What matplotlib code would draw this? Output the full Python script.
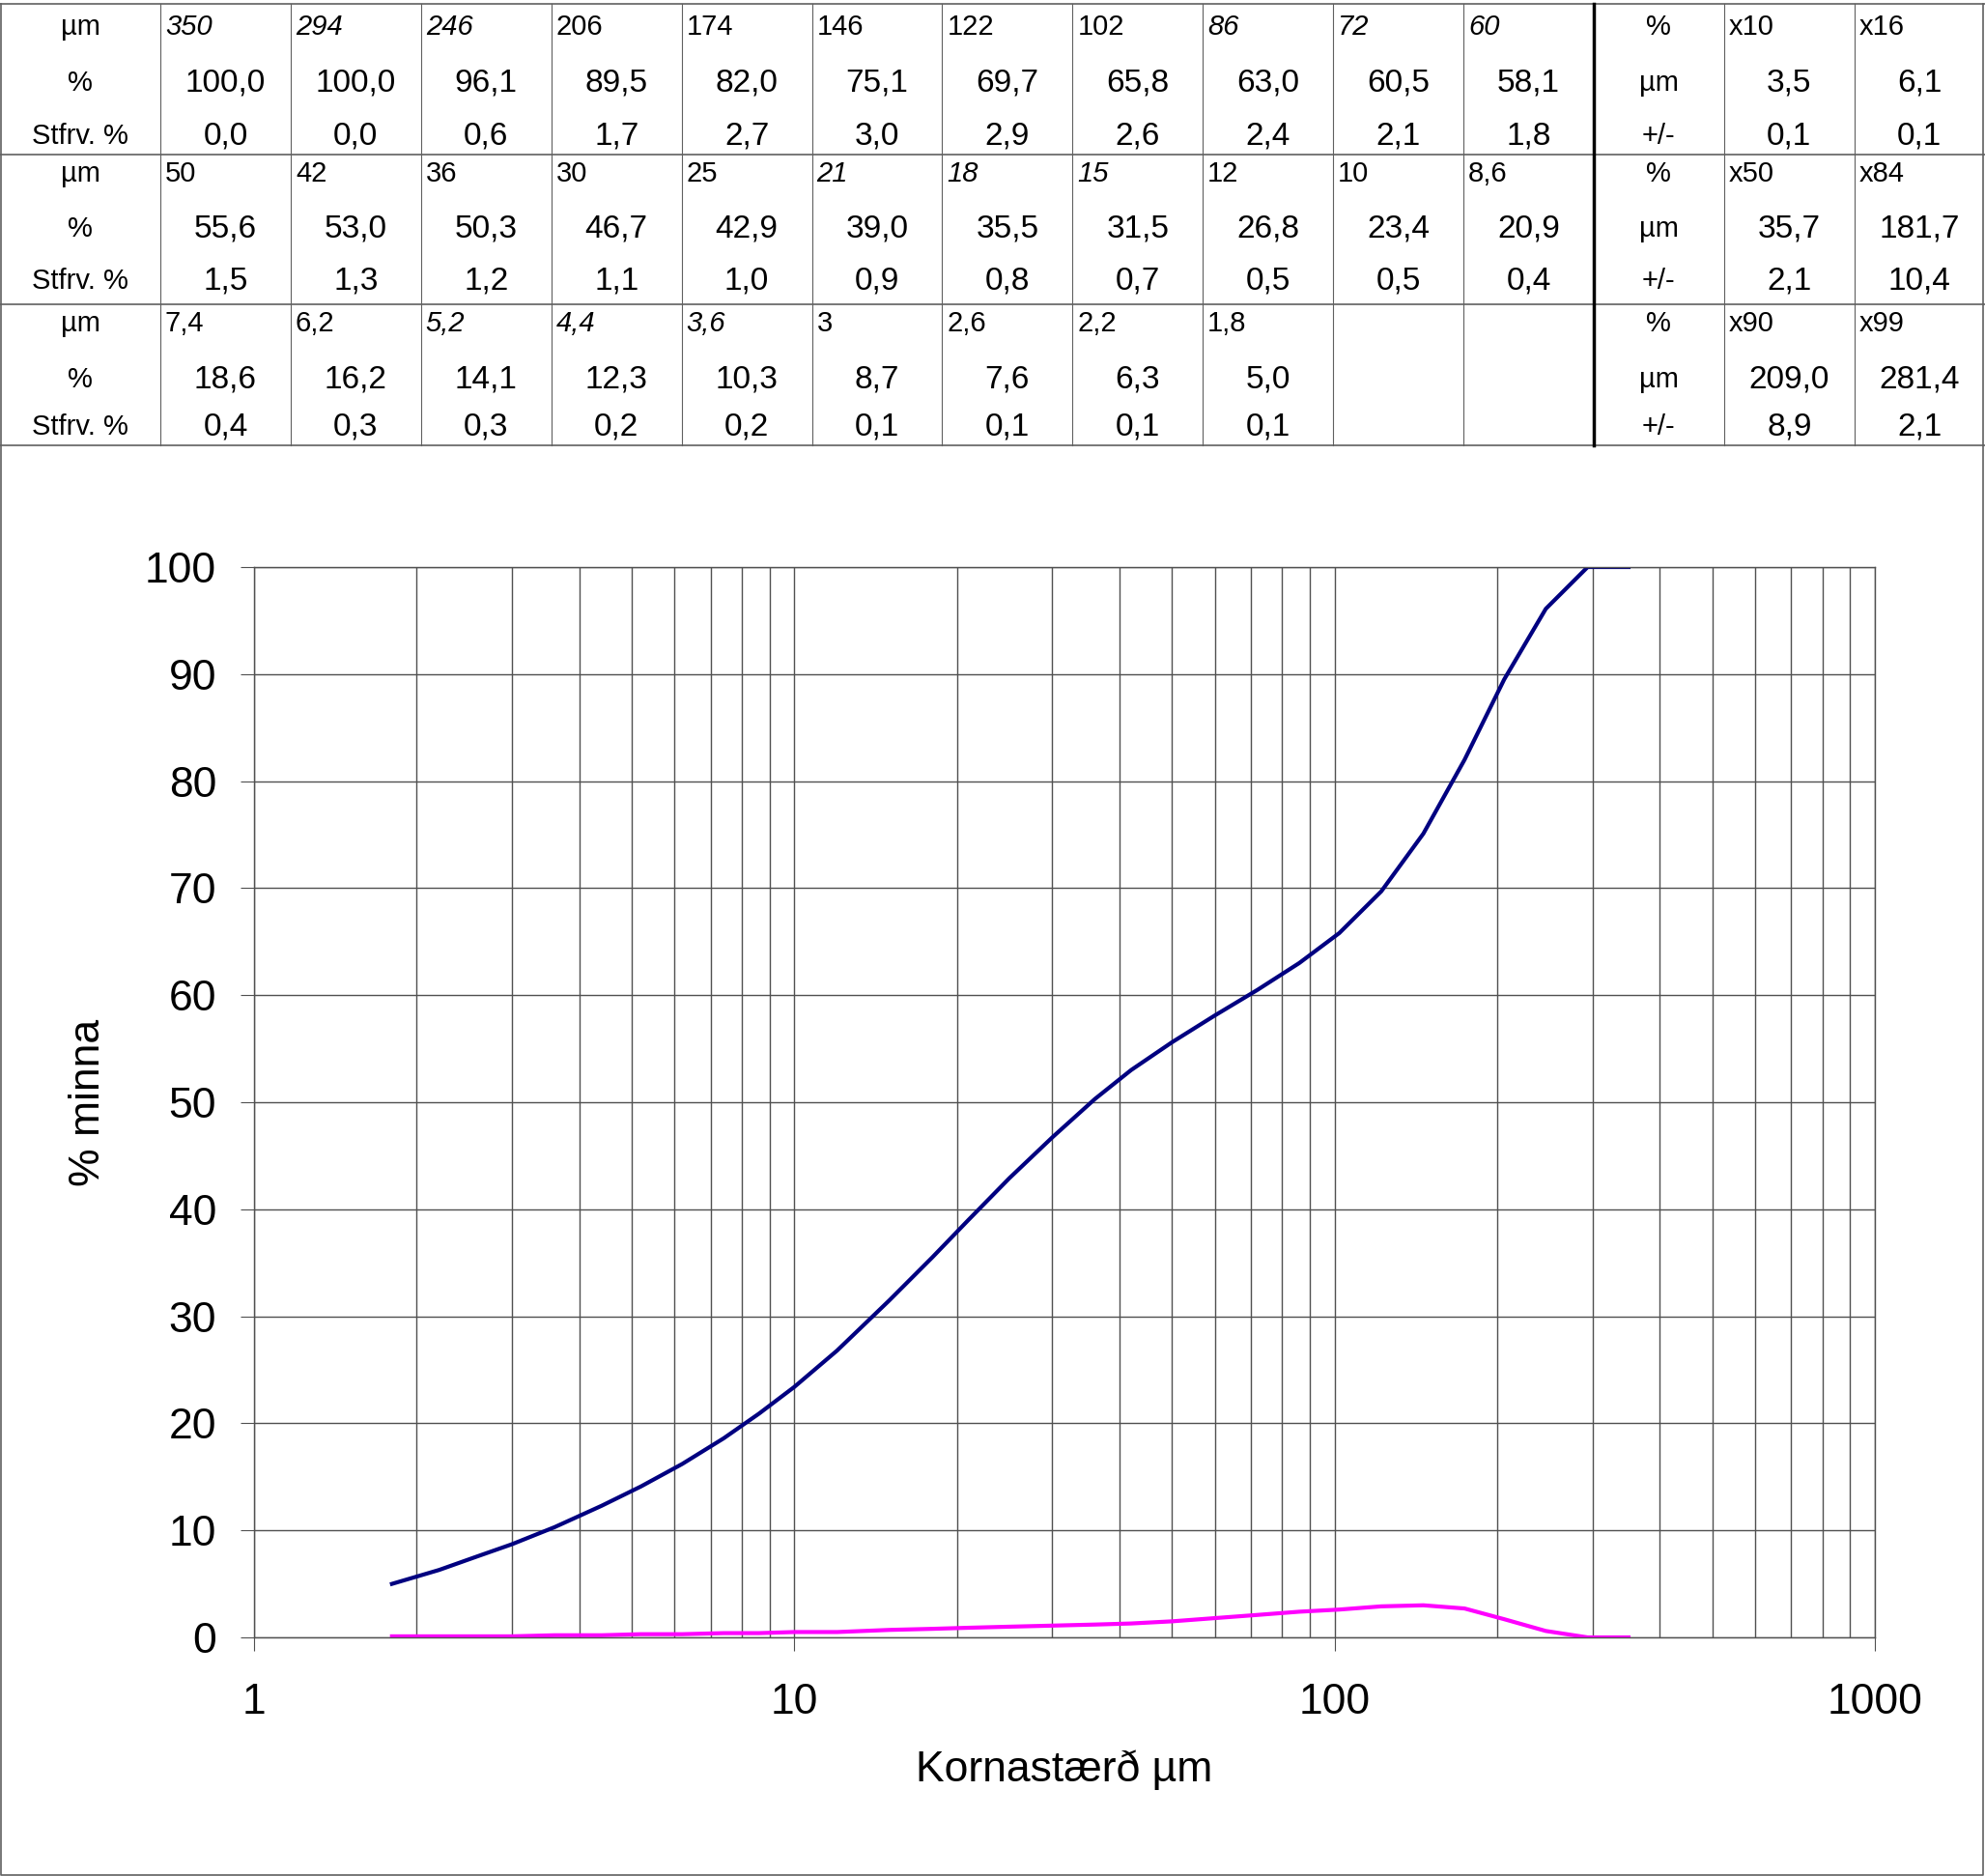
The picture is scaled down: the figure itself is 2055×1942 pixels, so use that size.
import matplotlib
matplotlib.use("Agg")
import matplotlib.pyplot as plt
from matplotlib.lines import Line2D
from matplotlib.ticker import FixedLocator, NullFormatter

plt.rcParams['font.family'] = ['Liberation Sans', 'DejaVu Sans']

# grain size (µm), % finer, standard deviation
sizes = [350, 294, 246, 206, 174, 146, 122, 102, 86, 72, 60,
         50, 42, 36, 30, 25, 21, 18, 15, 12, 10, 8.6,
         7.4, 6.2, 5.2, 4.4, 3.6, 3, 2.6, 2.2, 1.8]
percent = [100.0, 100.0, 96.1, 89.5, 82.0, 75.1, 69.7, 65.8, 63.0, 60.5, 58.1,
           55.6, 53.0, 50.3, 46.7, 42.9, 39.0, 35.5, 31.5, 26.8, 23.4, 20.9,
           18.6, 16.2, 14.1, 12.3, 10.3, 8.7, 7.6, 6.3, 5.0]
stdev = [0.0, 0.0, 0.6, 1.7, 2.7, 3.0, 2.9, 2.6, 2.4, 2.1, 1.8,
         1.5, 1.3, 1.2, 1.1, 1.0, 0.9, 0.8, 0.7, 0.5, 0.5, 0.4,
         0.4, 0.3, 0.3, 0.2, 0.2, 0.1, 0.1, 0.1, 0.1]
italic_sizes = [350, 294, 246, 86, 72, 60, 21, 18, 15, 5.2, 4.4, 3.6]

# percentile summary
pct_names = ['x10', 'x16', 'x50', 'x84', 'x90', 'x99']
pct_um = [3.5, 6.1, 35.7, 181.7, 209.0, 281.4]
pct_err = [0.1, 0.1, 2.1, 10.4, 8.9, 2.1]

W, H = 2055, 1942
fig = plt.figure(figsize=(W / 100, H / 100), dpi=100)

# table drawn in pixel coordinates
bg = fig.add_axes([0, 0, 1, 1])
bg.set_xlim(0, W)
bg.set_ylim(H, 0)
bg.axis('off')


def fmt(v):
    return f"{v:.1f}".replace('.', ',')


def fmt_size(v):
    return str(int(v)) if float(v).is_integer() else str(v).replace('.', ',')


grey = '#606060'
row_tops = [4, 160, 315]
head_off = [24, 20, 20]
val_off = [82, 77, 78]
std_off = [137, 131, 127]
col_w = 134.9
label_w = 166
thick_x = label_w + 11 * col_w
fs_lab, fs_head, fs_val = 21, 21, 24

for r in range(3):
    top = row_tops[r]
    yh, yv, ys = top + head_off[r], top + val_off[r], top + std_off[r]
    bg.text(label_w / 2, yh, 'µm', fontsize=fs_lab, ha='center', va='center')
    bg.text(label_w / 2, yv, '%', fontsize=fs_lab, ha='center', va='center')
    bg.text(label_w / 2, ys, 'Stfrv. %', fontsize=fs_lab, ha='center', va='center')
    for c in range(11):
        i = r * 11 + c
        if i >= len(sizes):
            break
        x0 = label_w + c * col_w
        style = 'italic' if sizes[i] in italic_sizes else 'normal'
        bg.text(x0 + 5, yh, fmt_size(sizes[i]), fontsize=fs_head, style=style,
                ha='left', va='center')
        bg.text(x0 + col_w / 2, yv, fmt(percent[i]), fontsize=fs_val,
                ha='center', va='center')
        bg.text(x0 + col_w / 2, ys, fmt(stdev[i]), fontsize=fs_val,
                ha='center', va='center')
    # right block
    bg.text(thick_x + col_w / 2, yh, '%', fontsize=fs_lab, ha='center', va='center')
    bg.text(thick_x + col_w / 2, yv, 'µm', fontsize=fs_lab, ha='center', va='center')
    bg.text(thick_x + col_w / 2, ys, '+/-', fontsize=fs_lab, ha='center', va='center')
    for k in range(2):
        j = r * 2 + k
        x0 = thick_x + (k + 1) * col_w
        bg.text(x0 + 5, yh, pct_names[j], fontsize=fs_head, ha='left', va='center')
        bg.text(x0 + col_w / 2, yv, fmt(pct_um[j]), fontsize=fs_val,
                ha='center', va='center')
        bg.text(x0 + col_w / 2, ys, fmt(pct_err[j]), fontsize=fs_val,
                ha='center', va='center')

# table grid lines
for y in row_tops + [461]:
    bg.add_line(Line2D([0, W], [y, y], color=grey, lw=1.2))
for c in range(14):
    x = label_w + c * col_w
    if c == 11:
        bg.add_line(Line2D([x, x], [4, 461], color='black', lw=2.5))
    else:
        bg.add_line(Line2D([x, x], [4, 461], color=grey, lw=0.8))
# outer frame
bg.add_line(Line2D([1, 1, W - 2, W - 2], [4, H - 1, H - 1, 4], color=grey, lw=1.2))

# chart
ax = fig.add_axes([263 / W, 1 - 1695 / H, (1941 - 263) / W, (1695 - 587) / H])
ax.plot(sizes, percent, color='#000080', lw=3)
ax.plot(sizes, stdev, color='#FF00FF', lw=3)
ax.set_xscale('log')
ax.set_xlim(1, 1000)
ax.set_ylim(0, 100)
ax.set_yticks(range(0, 101, 10))
ax.xaxis.set_major_locator(FixedLocator([1, 10, 100, 1000]))
ax.set_xticklabels(['1', '10', '100', '1000'])
minors = [m * d for d in (1, 10, 100) for m in range(2, 10)]
ax.xaxis.set_minor_locator(FixedLocator(minors))
ax.xaxis.set_minor_formatter(NullFormatter())
ax.grid(True, which='both', axis='x', color='#505050', lw=1)
ax.grid(True, which='major', axis='y', color='#505050', lw=1)
ax.set_axisbelow(True)
for s in ax.spines.values():
    s.set_color('#505050')
    s.set_linewidth(1)
ax.tick_params(axis='x', which='major', length=10, color='#505050',
               labelsize=32, pad=24)
ax.tick_params(axis='x', which='minor', length=0)
ax.tick_params(axis='y', which='major', length=10, color='#505050',
               labelsize=32, pad=18)
ax.set_xlabel('Kornastærð µm', fontsize=32, labelpad=20)
ax.set_ylabel('% minna', fontsize=32, labelpad=27)

fig.savefig('out.png', dpi=100)
